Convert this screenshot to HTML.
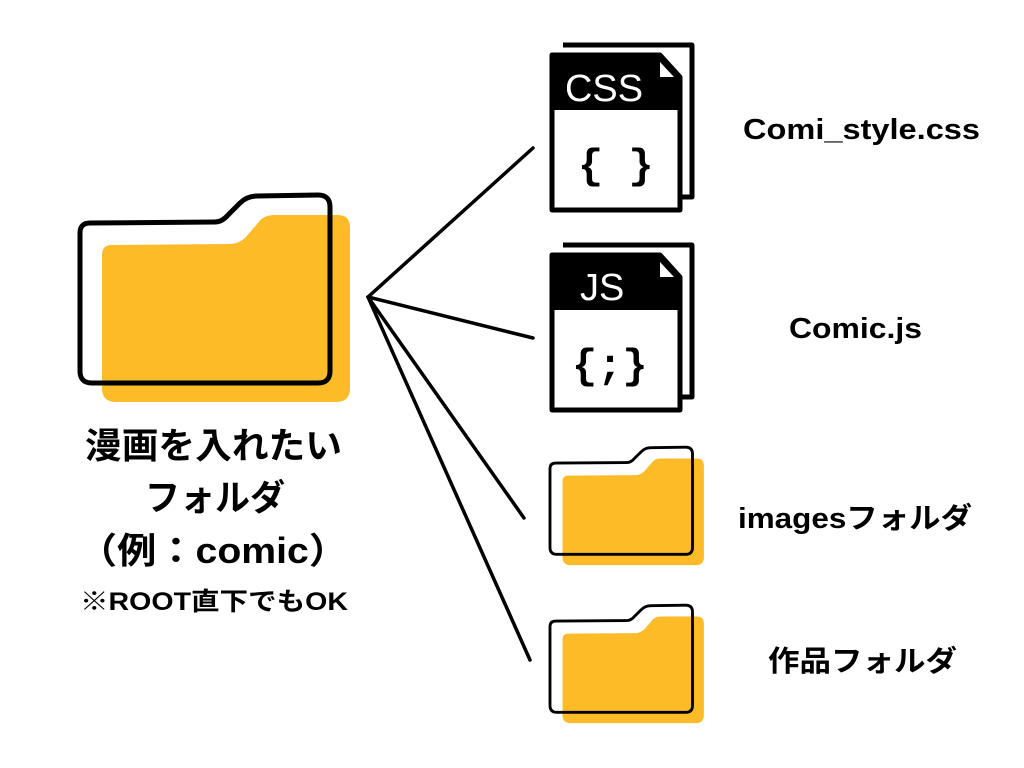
<!DOCTYPE html>
<html><head><meta charset="utf-8"><style>
html,body{margin:0;padding:0;background:#fff;width:1024px;height:768px;overflow:hidden}
svg text{font-family:"Liberation Sans","Noto Sans CJK JP",sans-serif;font-weight:bold;fill:#000}
</style></head><body>
<svg width="1024" height="768" viewBox="0 0 1024 768" xmlns="http://www.w3.org/2000/svg">
<defs>
<g id="folder">
<path d="M22,62 Q22,52 32,52 L150,51 Q158,51 165,45 L178,30 Q183,22 195,22 L258,22 Q270,22 270,35 L270,195 Q270,209 256,209 L36,209 Q22,209 22,195 Z" fill="#FDBB27"/>
<path d="M0,40 Q0,30 10,30 L135,29 Q142,29 148,22 L160,10 Q167,3 177,3 L238,2 Q250,2 250,14 L250,178 Q250,190 238,190 L12,190 Q0,190 0,178 Z" fill="none" stroke="#000" stroke-width="5" stroke-linejoin="round"/>
</g>
<g id="doc">
<path d="M11,0 L140,0 L140,152 L128,152" fill="none" stroke="#000" stroke-width="5" stroke-linejoin="round"/>
<path d="M0,10 L108,10 L128,32 L128,165 L0,165 Z" fill="#fff" stroke="#000" stroke-width="5" stroke-linejoin="round"/>
<path d="M0,10 L108,10 L128,32 L128,65 L0,65 Z" fill="#000"/>
<path d="M108,17 L108,32 L122,32 Z" fill="#fff"/>
</g>
</defs>
<use href="#folder" transform="translate(80,193)"/>
<use href="#folder" transform="translate(550,446) scale(0.57)"/>
<use href="#folder" transform="translate(550,604) scale(0.57)"/>
<use href="#doc" transform="translate(552,45)"/>
<use href="#doc" transform="translate(552,245)"/>
<text x="565" y="101" font-size="38" textLength="78" lengthAdjust="spacingAndGlyphs" style="fill:#fff;font-weight:normal">CSS</text>
<text x="578" y="178" font-size="42" style="font-family:'Liberation Mono',monospace">{ }</text>
<text x="580" y="300" font-size="38" style="fill:#fff;font-weight:normal">JS</text>
<text x="572" y="378" font-size="42" style="font-family:'Liberation Mono',monospace">{;}</text>
<g stroke="#000" stroke-width="3.5" stroke-linecap="round">
<line x1="368" y1="297" x2="533" y2="148"/>
<line x1="368" y1="297" x2="533" y2="338"/>
<line x1="368" y1="297" x2="524" y2="518"/>
<line x1="368" y1="297" x2="530" y2="660"/>
</g>
<g lengthAdjust="spacingAndGlyphs">
<text x="85" y="458" font-size="36" textLength="257" lengthAdjust="spacingAndGlyphs">漫画を入れたい</text>
<text x="145" y="510" font-size="36" textLength="140" lengthAdjust="spacingAndGlyphs">フォルダ</text>
<text x="78" y="563" font-size="36" textLength="270" lengthAdjust="spacingAndGlyphs">（例：comic）</text>
<text x="80" y="610" font-size="25" textLength="268" lengthAdjust="spacingAndGlyphs">※ROOT直下でもOK</text>
<text x="743" y="139" font-size="29" textLength="237" lengthAdjust="spacingAndGlyphs">Comi_style.css</text>
<text x="789" y="338" font-size="29" textLength="133" lengthAdjust="spacingAndGlyphs">Comic.js</text>
<text x="738" y="528" font-size="29" textLength="234" lengthAdjust="spacingAndGlyphs">imagesフォルダ</text>
<text x="768" y="671" font-size="29" textLength="189" lengthAdjust="spacingAndGlyphs">作品フォルダ</text>
</g>
</svg>
</body></html>
